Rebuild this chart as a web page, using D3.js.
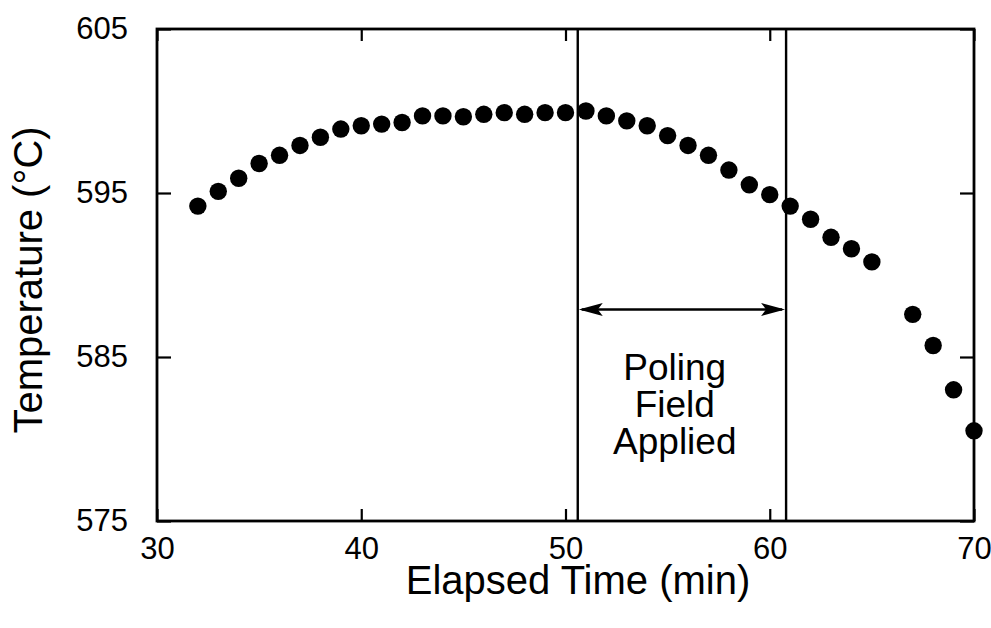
<!DOCTYPE html>
<html>
<head>
<meta charset="utf-8">
<script src="https://cdn.jsdelivr.net/npm/d3@7"></script>
<style>
  html, body { margin: 0; padding: 0; background: #fff; }
  svg text { font-family: "Liberation Sans", Arial, Helvetica, sans-serif; fill: #000; }
</style>
</head>
<body>
<svg id="chart" width="991" height="628"></svg>
<script>
// ---- data ----
const timeMin = [32,33,34,35,36,37,38,39,40,41,42,43,44,45,46,47,48,49,50,51,52,53,54,55,56,57,58,59,60,61,62,63,64,65,67,68,69,70];
const temperatureC = [594.2,595.1,595.9,596.8,597.3,597.9,598.4,598.9,599.1,599.2,599.3,599.7,599.7,599.65,599.8,599.9,599.8,599.9,599.9,600.0,599.7,599.4,599.1,598.5,597.9,597.3,596.4,595.5,594.9,594.2,593.4,592.3,591.6,590.8,587.6,585.7,583.0,580.5];
const xTicks = [30,40,50,60,70];
const yTicks = [575,585,595,605];
const fieldStart = 50.6;
const fieldEnd = 60.8;
const arrowTemp = 587.9;
const annotationLines = ["Poling","Field","Applied"];
const xTitle = "Elapsed Time (min)";
const yTitle = "Temperature (°C)";

// ---- layout ----
const L = 157, R = 974, T = 29, B = 521;
const svg = d3.select("#chart");
const x = d3.scaleLinear().domain([30,70]).range([L,R]);
const y = d3.scaleLinear().domain([575,605]).range([B,T]);

// axes (inward ticks)
const gB = svg.append("g").attr("transform",`translate(0,${B})`)
  .call(d3.axisBottom(x).tickValues(xTicks).tickSizeInner(-12).tickSizeOuter(0).tickPadding(16));
const gT = svg.append("g").attr("transform",`translate(0,${T})`)
  .call(d3.axisTop(x).tickValues(xTicks).tickSizeInner(-12).tickSizeOuter(0).tickFormat(""));
const gL = svg.append("g").attr("transform",`translate(${L},0)`)
  .call(d3.axisLeft(y).tickValues(yTicks).tickSizeInner(-14).tickSizeOuter(0).tickPadding(29));
const gR = svg.append("g").attr("transform",`translate(${R},0)`)
  .call(d3.axisRight(y).tickValues(yTicks).tickSizeInner(-14).tickSizeOuter(0).tickFormat(""));
[gB,gT,gL,gR].forEach(g => {
  g.select(".domain").remove();
  g.selectAll(".tick line").attr("stroke","#000").attr("stroke-width",2.2);
  g.selectAll(".tick text").attr("font-size",31).attr("fill","#000")
    .style("font-family","'Liberation Sans', Arial, Helvetica, sans-serif");
});

// frame
svg.append("rect").attr("x",L).attr("y",T).attr("width",R-L).attr("height",B-T)
  .attr("fill","none").attr("stroke","#000").attr("stroke-width",2.8);

// poling field lines
svg.selectAll("line.field").data([fieldStart, fieldEnd]).enter().append("line")
  .attr("class","field")
  .attr("x1",d=>x(d)).attr("x2",d=>x(d)).attr("y1",T).attr("y2",B)
  .attr("stroke","#000").attr("stroke-width",2.4);

// double arrow
const ay = y(arrowTemp), ax1 = x(fieldStart), ax2 = x(fieldEnd);
svg.append("line").attr("x1",ax1+4).attr("x2",ax2-4).attr("y1",ay).attr("y2",ay)
  .attr("stroke","#000").attr("stroke-width",2.4);
const head = (tip, dir) => {
  const len = 24, hw = 6.5, notch = 5;
  return `M${tip},${ay} L${tip+dir*len},${ay-hw} L${tip+dir*(len-notch)},${ay} L${tip+dir*len},${ay+hw} Z`;
};
svg.append("path").attr("d",head(ax1+1,1)).attr("fill","#000");
svg.append("path").attr("d",head(ax2-1,-1)).attr("fill","#000");

// annotation
const annX = x(55.35);
svg.append("text").attr("x",annX).attr("y",380).attr("text-anchor","middle").attr("font-size",37)
  .selectAll("tspan").data(annotationLines).enter().append("tspan")
  .attr("x",annX).attr("dy",(d,i)=> i===0 ? 0 : 37).text(d=>d);

// points
svg.selectAll("circle.pt").data(timeMin.map((t,i)=>[t,temperatureC[i]])).enter().append("circle")
  .attr("class","pt").attr("cx",d=>x(d[0])).attr("cy",d=>y(d[1])).attr("r",8.7).attr("fill","#000");

// axis titles
svg.append("text").attr("x",578).attr("y",594).attr("text-anchor","middle")
  .attr("font-size",40).text(xTitle);
svg.append("text").attr("transform",`translate(42,${280}) rotate(-90)`).attr("text-anchor","middle")
  .attr("font-size",40).text(yTitle);
</script>
</body>
</html>
